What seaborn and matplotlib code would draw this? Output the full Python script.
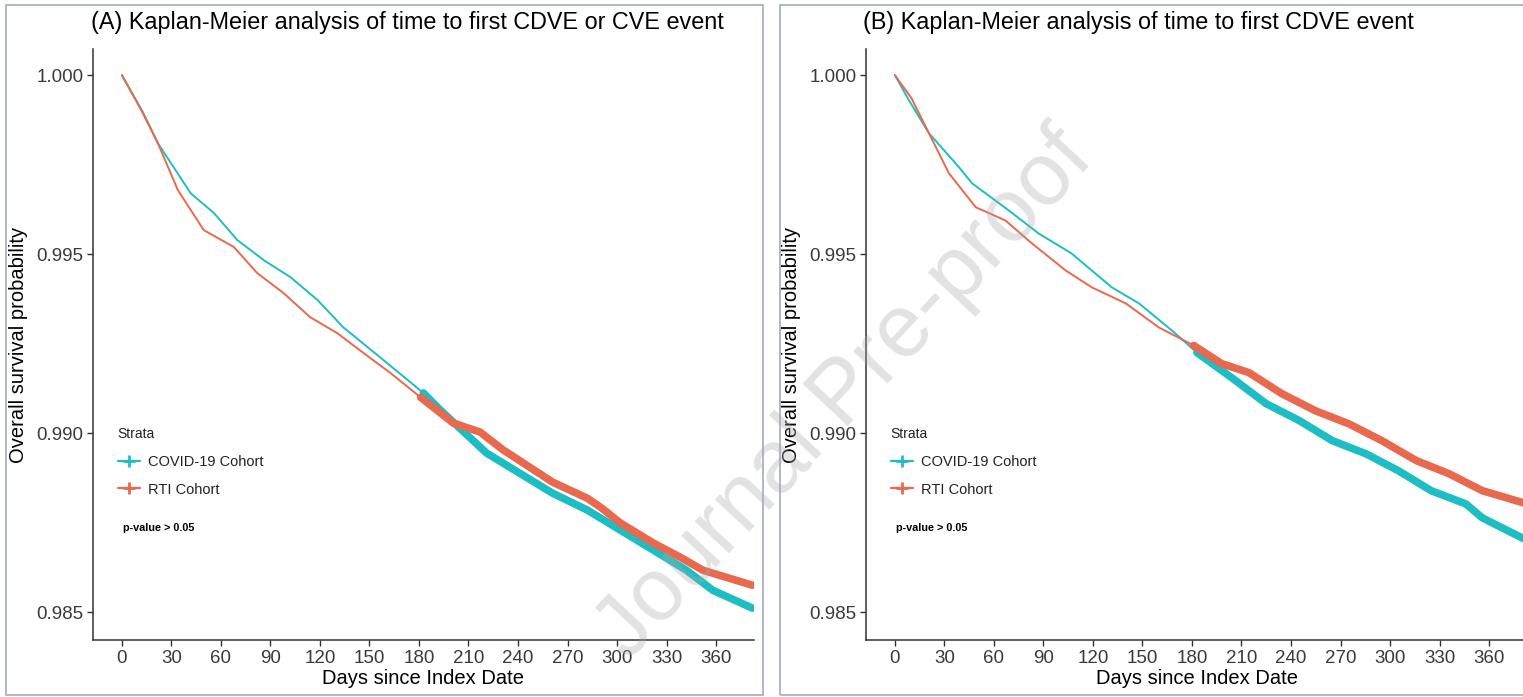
import numpy as np
import pandas as pd
import matplotlib
matplotlib.use("Agg")
import matplotlib.pyplot as plt
import seaborn as sns
from matplotlib.lines import Line2D
from matplotlib.patches import Rectangle

# ---------------- data ----------------
cohorts = ["COVID-19 Cohort", "RTI Cohort"]
x_ticks = [0, 30, 60, 90, 120, 150, 180, 210, 240, 270, 300, 330, 360]
y_ticks = [0.985, 0.990, 0.995, 1.000]
y_tick_labels = ["0.985", "0.990", "0.995", "1.000"]

# Panel A: time to first CDVE or CVE event
a_covid_t = [0, 12.7, 21.8, 41.7, 55.7, 70, 86, 102, 118.5, 134, 158.5, 182.7,
             193, 221, 241, 261, 282, 302, 322, 342, 358, 382]
a_covid_s = [1.0, 0.99897, 0.9981, 0.9967, 0.99615, 0.99539, 0.99483, 0.99436,
             0.99372, 0.99296, 0.99204, 0.99112, 0.99064, 0.98944, 0.98888,
             0.98832, 0.98785, 0.98729, 0.98673, 0.98617, 0.98561, 0.98511]
a_rti_t = [0, 12, 21.8, 33.9, 49.6, 67.8, 82, 98, 114, 130.6, 146.6, 162.7, 181,
           200.8, 217, 231, 247, 261, 282, 290, 302, 322, 338, 352, 382]
a_rti_s = [1.0, 0.9990, 0.9981, 0.99679, 0.99567, 0.9952, 0.99447, 0.99391,
           0.99324, 0.99279, 0.99223, 0.99168, 0.99100, 0.99028, 0.99003,
           0.98953, 0.98905, 0.98863, 0.98818, 0.98793, 0.98749, 0.98693,
           0.98654, 0.98617, 0.98575]

# Panel B: time to first CDVE event
b_covid_t = [0, 8.5, 20.6, 38.8, 46.7, 69, 87, 107, 131.5, 148, 168, 183,
             204, 225, 245, 265, 285.5, 305, 325, 346, 356, 381]
b_covid_s = [1.0, 0.9993, 0.99838, 0.99743, 0.99698, 0.99622, 0.99558, 0.99502,
             0.99407, 0.99362, 0.99286, 0.99225, 0.99155, 0.99082, 0.99035,
             0.98979, 0.98942, 0.98895, 0.98839, 0.98802, 0.98763, 0.98705]
b_rti_t = [0, 10, 20.6, 32.7, 49, 67, 83, 103.6, 119.4, 140, 160, 181, 198,
           214.5, 234.5, 255, 275, 295, 316, 336, 356, 381]
b_rti_s = [1.0, 0.99936, 0.99838, 0.99726, 0.99631, 0.99594, 0.9953, 0.99454,
           0.99407, 0.99362, 0.99295, 0.99245, 0.99194, 0.99169, 0.9911,
           0.99062, 0.99026, 0.98979, 0.98923, 0.98886, 0.98839, 0.98805]

titles = ["(A) Kaplan-Meier analysis of time to first CDVE or CVE event",
          "(B) Kaplan-Meier analysis of time to first CDVE event"]
x_label = "Days since Index Date"
y_label = "Overall survival probability"
legend_title = "Strata"
p_text = "p-value > 0.05"

# ---------------- style ----------------
sns.set_theme(style="white")
plt.rcParams["font.family"] = ["Liberation Sans", "DejaVu Sans"]

palette = {"COVID-19 Cohort": "#1DBEC3", "RTI Cohort": "#E8694E"}
W, H = 1523, 697
fig = plt.figure(figsize=(W / 100, H / 100), dpi=100)
fig.patch.set_facecolor("white")

border_col = "#A9B1C7"
fig.add_artist(Rectangle((6 / W, 1 - 695 / H), 757 / W, 690 / H,
                         transform=fig.transFigure, fill=False,
                         edgecolor=border_col, lw=1.3))
fig.add_artist(Rectangle((780 / W, 1 - 695 / H), 760 / W, 690 / H,
                         transform=fig.transFigure, fill=False,
                         edgecolor=border_col, lw=1.3))

axA = fig.add_axes([93 / W, 1 - 640 / H, 661 / W, 591 / H])
axB = fig.add_axes([866 / W, 1 - 640 / H, 661 / W, 591 / H])


def panel(ax, ct, cs, rt, rs, title, title_x, p_bold):
    df = pd.DataFrame({
        "time": list(ct) + list(rt),
        "surv": list(cs) + list(rs),
        "Strata": [cohorts[0]] * len(ct) + [cohorts[1]] * len(rt),
    })
    sns.lineplot(data=df, x="time", y="surv", hue="Strata", hue_order=cohorts,
                 palette=palette, estimator=None, sort=False, lw=1.4,
                 legend=False, ax=ax)
    thick = df[df["time"] >= 180]
    sns.lineplot(data=thick, x="time", y="surv", hue="Strata",
                 hue_order=cohorts, palette=palette, estimator=None,
                 sort=False, lw=5.5, legend=False, ax=ax)

    ax.set_xlim(-17.5, 383)
    ax.set_ylim(0.98422, 1.00073)
    ax.set_xticks(x_ticks)
    ax.set_xticklabels([str(t) for t in x_ticks])
    ax.set_yticks(y_ticks)
    ax.set_yticklabels(y_tick_labels)
    for s in ["top", "right"]:
        ax.spines[s].set_visible(False)
    for s in ["left", "bottom"]:
        ax.spines[s].set_color("#333333")
        ax.spines[s].set_linewidth(1.1)
    ax.tick_params(axis="both", direction="out", length=4, width=1,
                   color="#333333", labelsize=13.5, labelcolor="#3a3a3a",
                   bottom=True, left=True, pad=3)
    ax.set_xlabel(x_label, fontsize=14.5, color="black", labelpad=2)
    ax.set_ylabel(y_label, fontsize=14.5, color="black", labelpad=6)
    fig.text(title_x / W, 1 - 22 / H, title, fontsize=16.8, ha="center",
             va="center", color="black")

    handles = [Line2D([0], [0], color=palette[c], lw=1.6, marker="+",
                      markersize=9, markeredgewidth=2) for c in cohorts]
    leg = ax.legend(handles, cohorts, title=legend_title, loc="upper left",
                    bbox_to_anchor=(0.022, 0.378), frameon=False,
                    fontsize=10.5, title_fontsize=10, handlelength=1.5,
                    handletextpad=0.6, labelspacing=0.95, borderpad=0.2,
                    alignment="left")
    leg.get_title().set_color("#222222")
    for t in leg.get_texts():
        t.set_color("#222222")
    ax.text(0.045, 0.19, p_text, transform=ax.transAxes, fontsize=7.8,
            fontweight=p_bold, color="black", va="center", ha="left")


panel(axA, a_covid_t, a_covid_s, a_rti_t, a_rti_s, titles[0], 407, "bold")
panel(axB, b_covid_t, b_covid_s, b_rti_t, b_rti_s, titles[1], 1138, "semibold")

# watermark
fig.text(845 / W, 1 - 395 / H, "Journal Pre-proof", rotation=47,
         fontsize=64, color="#a8a8a8", alpha=0.33, ha="center", va="center",
         rotation_mode="anchor", zorder=20)

fig.savefig("out.png", dpi=100, facecolor="white")
